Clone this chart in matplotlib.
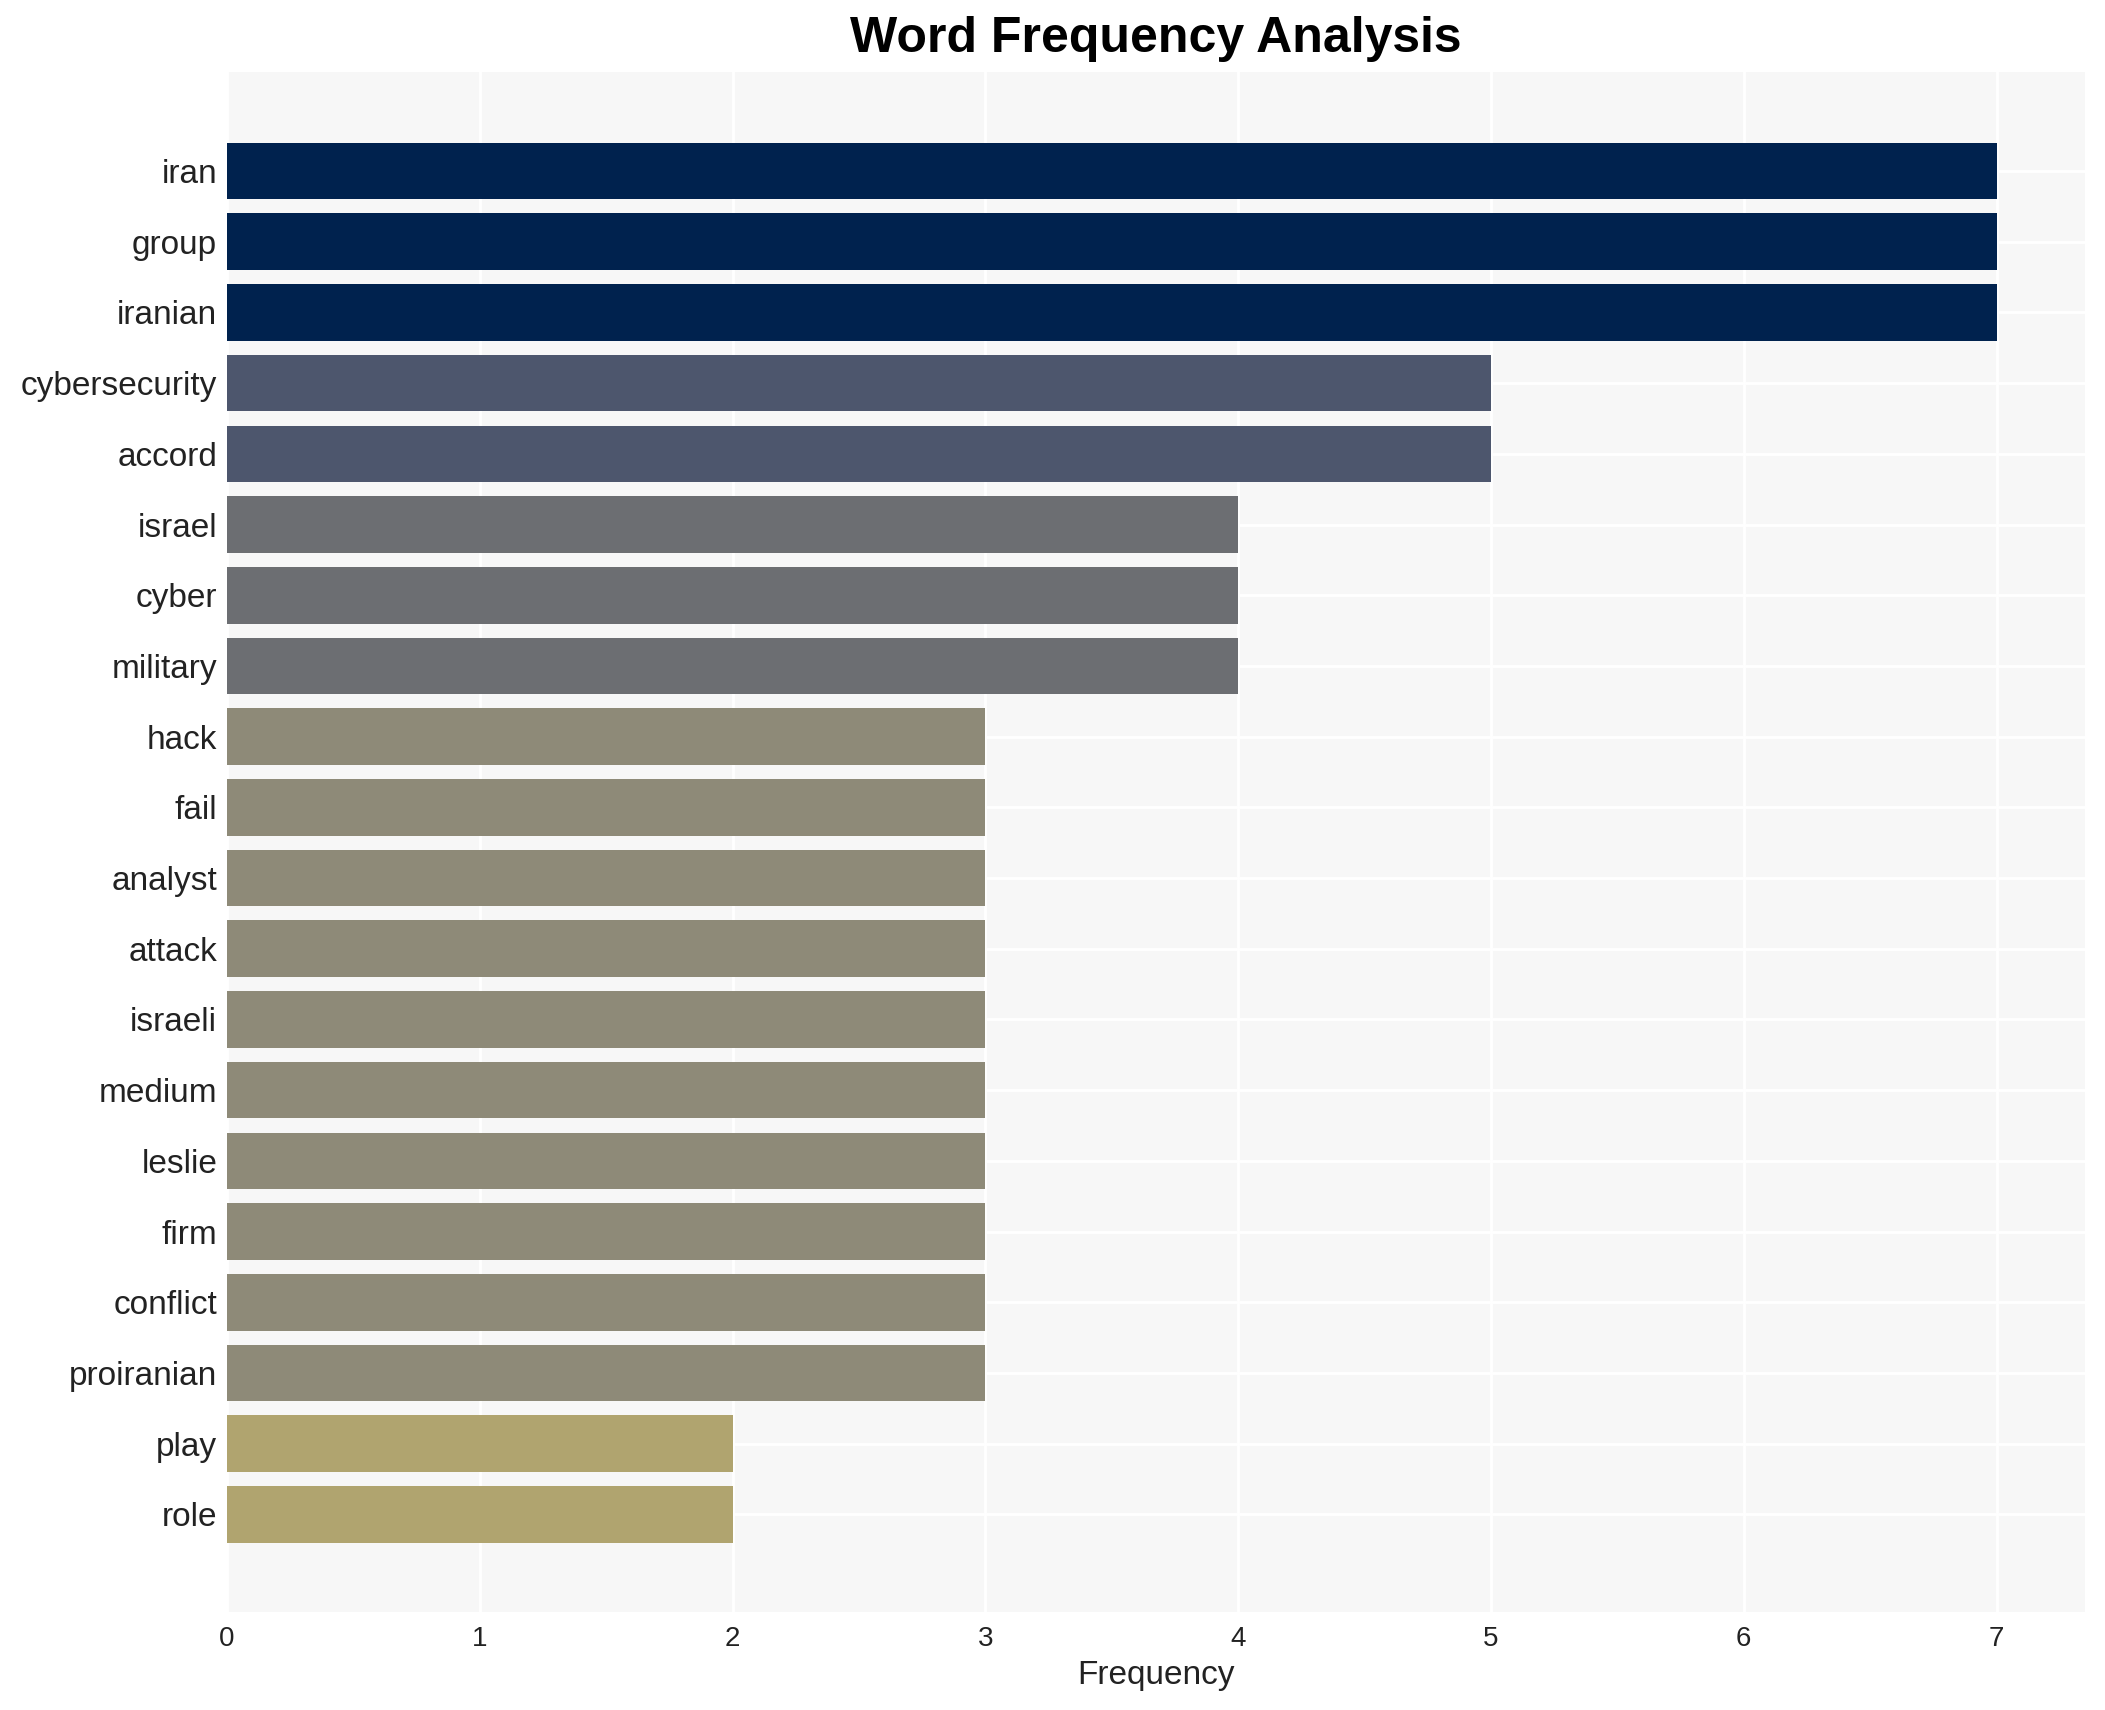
import matplotlib.pyplot as plt
import numpy as np

words = ['iran', 'group', 'iranian', 'cybersecurity', 'accord', 'israel', 'cyber',
         'military', 'hack', 'fail', 'analyst', 'attack', 'israeli', 'medium',
         'leslie', 'firm', 'conflict', 'proiranian', 'play', 'role']
counts = [7, 7, 7, 5, 5, 4, 4, 4, 3, 3, 3, 3, 3, 3, 3, 3, 3, 3, 2, 2]

# colour per frequency level (cividis-like)
level_colors = {7: '#00224e', 5: '#4d566d', 4: '#6c6e72', 3: '#8e8a78', 2: '#b0a46f'}

plt.rcParams['font.family'] = ['Liberation Sans', 'DejaVu Sans']

fig = plt.figure(figsize=(21.05, 17.10), dpi=100)
ax = fig.add_axes([0.1078, 0.0573, 0.8827, 0.9006])
ax.set_facecolor('#f7f7f7')

y = np.arange(len(words))
colors = [level_colors[c] for c in counts]
ax.barh(y, counts, height=0.8, color=colors, zorder=3)

ax.set_ylim(len(words) - 1 + 1.38, -1.4)
ax.set_xlim(0, 7.35)
ax.set_yticks(y)
ax.set_yticklabels(words)
ax.set_xticks(range(0, 8))

ax.grid(True, color='white', linewidth=2, zorder=1)
ax.set_axisbelow(True)
for s in ax.spines.values():
    s.set_visible(False)
ax.tick_params(axis='both', length=0, labelsize=24, colors='#222222')
ax.tick_params(axis='x', pad=10, labelsize=20)
ax.tick_params(axis='y', pad=7)

ax.set_xlabel('Frequency', fontsize=24, color='#222222', labelpad=6)
fig.text(0.549, 0.977, 'Word Frequency Analysis', ha='center', va='center',
         fontsize=36, fontweight='bold', color='black')

fig.savefig('out.png', dpi=100, facecolor='white')
